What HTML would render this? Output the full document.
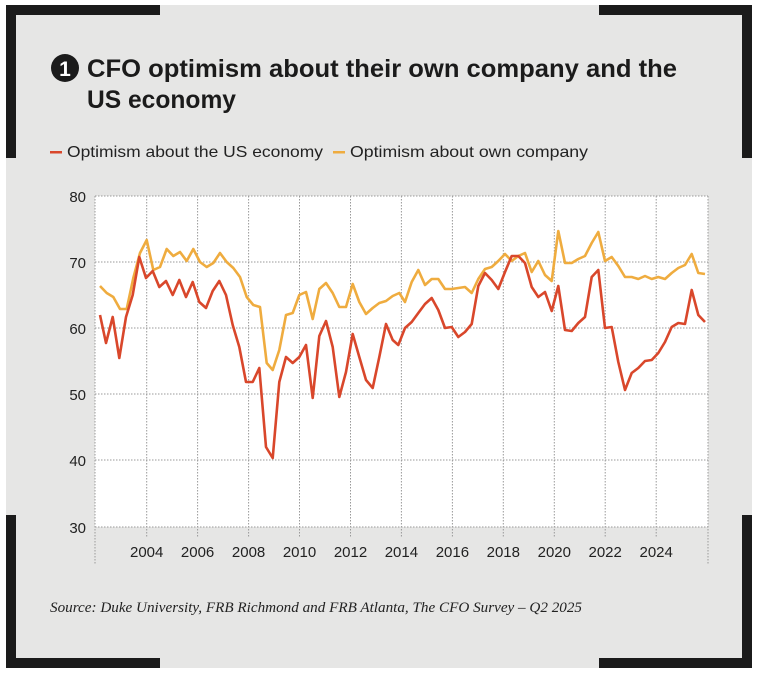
<!DOCTYPE html>
<html><head><meta charset="utf-8"><style>
html,body{margin:0;padding:0;background:#fff;}
svg{display:block;}
</style></head><body>
<svg width="759" height="674" viewBox="0 0 759 674" xmlns="http://www.w3.org/2000/svg" font-family="Liberation Sans, sans-serif">
<rect x="6" y="5" width="746" height="663" fill="#e6e6e5"/>
<g fill="#1b1b1b">
<rect x="6" y="5" width="154" height="10"/><rect x="6" y="5" width="10" height="153"/>
<rect x="599" y="5" width="153" height="10"/><rect x="742" y="5" width="10" height="153"/>
<rect x="6" y="515" width="10" height="153"/><rect x="6" y="658" width="154" height="10"/>
<rect x="742" y="515" width="10" height="153"/><rect x="599" y="658" width="153" height="10"/>
</g>
<circle cx="65" cy="68" r="14" fill="#1b1b1b"/>
<text x="65" y="76" text-anchor="middle" font-size="21" font-weight="bold" fill="#fff">1</text>
<text x="87" y="77" font-size="25" font-weight="bold" fill="#1b1b1b" textLength="590" lengthAdjust="spacingAndGlyphs">CFO optimism about their own company and the</text>
<text x="87" y="108" font-size="25" font-weight="bold" fill="#1b1b1b" textLength="149" lengthAdjust="spacingAndGlyphs">US economy</text>
<rect x="50" y="151" width="12" height="2.5" fill="#d9472b"/>
<text x="67" y="157" font-size="16" fill="#222" textLength="256" lengthAdjust="spacingAndGlyphs">Optimism about the US economy</text>
<rect x="333" y="151" width="12" height="2.5" fill="#efac3f"/>
<text x="350" y="157" font-size="16" fill="#222" textLength="238" lengthAdjust="spacingAndGlyphs">Optimism about own company</text>
<rect x="95" y="196" width="613" height="331" fill="#fff"/>
<g stroke="#999" stroke-width="1" stroke-dasharray="1.5,1.5" fill="none">
<line x1="95" y1="196" x2="708" y2="196"/><line x1="95" y1="262" x2="708" y2="262"/>
<line x1="95" y1="328" x2="708" y2="328"/><line x1="95" y1="394" x2="708" y2="394"/>
<line x1="95" y1="460" x2="708" y2="460"/><line x1="95" y1="527" x2="708" y2="527"/>
<line x1="95" y1="196" x2="95" y2="565"/><line x1="708" y1="196" x2="708" y2="565"/>
<line x1="146.7" y1="196" x2="146.7" y2="537"/><line x1="197.6" y1="196" x2="197.6" y2="537"/>
<line x1="248.6" y1="196" x2="248.6" y2="537"/><line x1="299.5" y1="196" x2="299.5" y2="537"/>
<line x1="350.5" y1="196" x2="350.5" y2="537"/><line x1="401.4" y1="196" x2="401.4" y2="537"/>
<line x1="452.4" y1="196" x2="452.4" y2="537"/><line x1="503.3" y1="196" x2="503.3" y2="537"/>
<line x1="554.3" y1="196" x2="554.3" y2="537"/><line x1="605.2" y1="196" x2="605.2" y2="537"/>
<line x1="656.2" y1="196" x2="656.2" y2="537"/>
</g>
<g font-size="15" fill="#222" text-anchor="end">
<text x="86" y="202">80</text><text x="86" y="268">70</text><text x="86" y="334">60</text>
<text x="86" y="400">50</text><text x="86" y="466">40</text><text x="86" y="533">30</text>
</g>
<g font-size="15" fill="#222" text-anchor="middle">
<text x="146.7" y="557">2004</text><text x="197.6" y="557">2006</text><text x="248.6" y="557">2008</text>
<text x="299.5" y="557">2010</text><text x="350.5" y="557">2012</text><text x="401.4" y="557">2014</text>
<text x="452.4" y="557">2016</text><text x="503.3" y="557">2018</text><text x="554.3" y="557">2020</text>
<text x="605.2" y="557">2022</text><text x="656.2" y="557">2024</text>
</g>
<polyline fill="none" stroke="#efac3f" stroke-width="2.6" stroke-linejoin="round" points="100,286 106.7,293 113.3,297 120,309 126.7,309 133.3,278 140,253 146.7,240 153.3,270 160,267 166.7,249 173.3,256 180,252 186.7,261 193.3,249 200,262 206.7,267 213.3,263 220,253 226.7,262 233.3,268 240,277 246.7,297 253.3,305 260,307 266.7,363 272.7,370 279.3,350 286,315 292.7,313 299.3,295 306,292 312.7,319 319.3,289 326,283 332.7,293 339.3,307 346,307 352.7,284 359.3,302 366,314 372.7,308 379.3,303 386,301 392.7,296 399.3,293 405,302 411.7,282 418.3,270 425,285 431.7,279 438.3,279 445,289 451.7,289 458.3,288 465,287 471.7,293 478.3,279 485,269 491.7,267 498.3,261 505,254 511.7,261 518.3,256 525,253 531.7,272 538.3,261 545,275 551.7,281 558.3,231 565,263 571.7,263 578.3,259 585,256 591.7,243 598.3,232 605,261 611.7,257 618.3,266 625,277 631.7,277 638.3,279 645,276 651.7,279 658.3,277 665,279 671.7,273 678.3,268 685,265 691.7,254 698.3,273 705,274"/>
<polyline fill="none" stroke="#d9472b" stroke-width="2.6" stroke-linejoin="round" points="100,315 106,343 112.7,317 119.3,358 126,317 132.7,295 139.3,257 146,278 152.7,271 159.3,287 166,281 172.7,295 179.3,280 186,297 192.7,282 199.3,302 206,308 212.7,291 219.3,281 226,295 232.7,325 239.3,347 246,382 252.7,382 259.3,368 266,447 272.7,458 279.3,382 286,357 292.7,363 299.3,357 306,345 312.7,398 319.3,336 326,321 332.7,347 339.3,397 346,372 352.7,334 359.3,357 366,380 372.7,388 379.3,357 386,324 392.7,340 398.3,345 405,328 411.7,322 418.3,313 425,304 431.7,298 438.3,310 445,328 451.7,327 458.3,337 465,332 471.7,324 478.3,286 485,273 491.7,280 498.3,289 505,272 511.7,256 518.3,256 525,263 531.7,287 538.3,297 545,292 551.7,311 558.3,286 565,330 571.7,331 578.3,323 585,317 591.7,277 598.3,270 605,328 611.7,327 618.3,362 625,390 631.7,373 638.3,368 645,361 651.7,360 658.3,353 665,342 671.7,327 678.3,323 685,324 691.7,290 698.3,315 705,322"/>
<text x="50" y="612" font-family="Liberation Serif, serif" font-style="italic" font-size="15" fill="#222" textLength="532" lengthAdjust="spacingAndGlyphs">Source: Duke University, FRB Richmond and FRB Atlanta, The CFO Survey – Q2 2025</text>
</svg>
</body></html>
